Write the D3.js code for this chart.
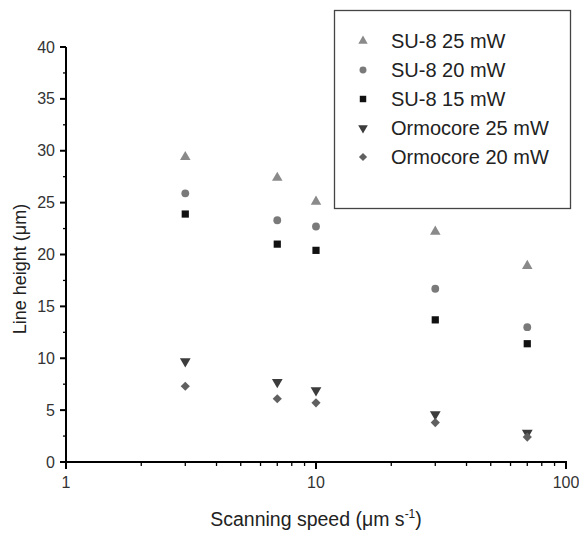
<!DOCTYPE html>
<html>
<head>
<meta charset="utf-8">
<script src="https://cdn.jsdelivr.net/npm/d3@7"></script>
<style>
body { margin: 0; background: #fff; }
text { font-family: Arial, "Liberation Sans", sans-serif; }
</style>
</head>
<body>
<div id="chart"></div>
<script>
(function(){
	var w = 579, h = 536;
	var margin = {left: 66, right: 13, top: 47, bottom: 74};

	// data
	var speeds = [3, 7, 10, 30, 70];
	var su8_25 = [29.4, 27.4, 25.1, 22.2, 18.9];
	var su8_20 = [25.9, 23.3, 22.7, 16.7, 13.0];
	var su8_15 = [23.9, 21.0, 20.4, 13.7, 11.4];
	var orm_25 = [9.7, 7.7, 6.9, 4.6, 2.8];
	var orm_20 = [7.3, 6.1, 5.7, 3.8, 2.4];
	var yTicks = [0, 5, 10, 15, 20, 25, 30, 35, 40];
	var xTicks = [1, 10, 100];

	var series = [
		{name: "SU-8 25 mW", values: su8_25, symbol: d3.symbolTriangle, size: 48, color: "#8a8a8a", rot: 0},
		{name: "SU-8 20 mW", values: su8_20, symbol: d3.symbolCircle, size: 48, color: "#7a7a7a", rot: 0},
		{name: "SU-8 15 mW", values: su8_15, symbol: d3.symbolSquare, size: 52, color: "#111", rot: 0},
		{name: "Ormocore 25 mW", values: orm_25, symbol: d3.symbolTriangle, size: 50, color: "#3c3c3c", rot: 180},
		{name: "Ormocore 20 mW", values: orm_20, symbol: d3.symbolSquare, size: 42, color: "#606060", rot: 45}
	];

	var svg = d3.select("#chart").append("svg")
		.attr("width", w)
		.attr("height", h);

	var x = d3.scaleLog().domain([1, 100]).range([margin.left, 566]);
	var y = d3.scaleLinear().domain([0, 40]).range([462, margin.top]);

	// x axis
	var minorX = [];
	for (var dec = 1; dec < 100; dec *= 10){
		for (var k = 2; k <= 9; k++) minorX.push(dec * k);
	}
	var gx = svg.append("g").attr("transform", "translate(0,462)");
	gx.append("line").attr("x1", x(1) - 1).attr("x2", x(100) + 1)
		.attr("stroke", "#000").attr("stroke-width", 2);
	gx.selectAll(".minor").data(minorX).enter().append("line")
		.attr("x1", function(d){ return x(d); }).attr("x2", function(d){ return x(d); })
		.attr("y1", 0).attr("y2", 4)
		.attr("stroke", "#000").attr("stroke-width", 1.3);
	gx.selectAll(".major").data(xTicks).enter().append("line")
		.attr("x1", function(d){ return x(d); }).attr("x2", function(d){ return x(d); })
		.attr("y1", 0).attr("y2", 7)
		.attr("stroke", "#000").attr("stroke-width", 2);
	gx.selectAll("text").data(xTicks).enter().append("text")
		.attr("x", function(d){ return x(d); })
		.attr("y", 26)
		.attr("text-anchor", "middle")
		.attr("font-size", 16)
		.attr("fill", "#333")
		.text(function(d){ return d; });

	// y axis
	var minorY = d3.range(2.5, 40, 5);
	var gy = svg.append("g").attr("transform", "translate(" + margin.left + ",0)");
	gy.append("line").attr("y1", y(40)).attr("y2", y(0) + 1)
		.attr("stroke", "#000").attr("stroke-width", 2);
	gy.selectAll(".minor").data(minorY).enter().append("line")
		.attr("y1", function(d){ return y(d); }).attr("y2", function(d){ return y(d); })
		.attr("x1", -3).attr("x2", 0)
		.attr("stroke", "#000").attr("stroke-width", 1.3);
	gy.selectAll(".major").data(yTicks).enter().append("line")
		.attr("y1", function(d){ return y(d); }).attr("y2", function(d){ return y(d); })
		.attr("x1", -6).attr("x2", 0)
		.attr("stroke", "#000").attr("stroke-width", 2);
	gy.selectAll("text").data(yTicks).enter().append("text")
		.attr("x", -11)
		.attr("y", function(d){ return y(d) + 5.5; })
		.attr("text-anchor", "end")
		.attr("font-size", 16)
		.attr("fill", "#333")
		.text(function(d){ return d; });

	// axis titles
	svg.append("text")
		.attr("transform", "translate(26,269) rotate(-90)")
		.attr("text-anchor", "middle")
		.attr("font-size", 18)
		.attr("fill", "#222")
		.text("Line height (\u03bcm)");
	var xt = svg.append("text")
		.attr("x", 316).attr("y", 526)
		.attr("text-anchor", "middle")
		.attr("font-size", 19.5)
		.attr("fill", "#222");
	xt.append("tspan").text("Scanning speed (\u03bcm s");
	xt.append("tspan").attr("dy", -8).attr("font-size", 12).text("-1");
	xt.append("tspan").attr("dy", 8).text(")");

	// points
	series.forEach(function(s){
		var sym = d3.symbol().type(s.symbol).size(s.size);
		svg.append("g").selectAll("path").data(s.values).enter().append("path")
			.attr("d", sym)
			.attr("transform", function(d, i){
				return "translate(" + x(speeds[i]) + "," + y(d) + ") rotate(" + s.rot + ")";
			})
			.attr("fill", s.color);
	});

	// legend
	var lg = svg.append("g");
	lg.append("rect")
		.attr("x", 334.5).attr("y", 10.5)
		.attr("width", 236).attr("height", 198)
		.attr("fill", "#fff").attr("stroke", "#444").attr("stroke-width", 1.3);
	series.forEach(function(s, i){
		var sym = d3.symbol().type(s.symbol).size(s.size * 0.8);
		var yy = 41 + i * 29;
		lg.append("path")
			.attr("d", sym)
			.attr("transform", "translate(363," + yy + ") rotate(" + s.rot + ")")
			.attr("fill", s.color);
		lg.append("text")
			.attr("x", 391).attr("y", yy + 7)
			.attr("font-size", 20)
			.attr("fill", "#222")
			.text(s.name);
	});
})();
</script>
</body>
</html>
